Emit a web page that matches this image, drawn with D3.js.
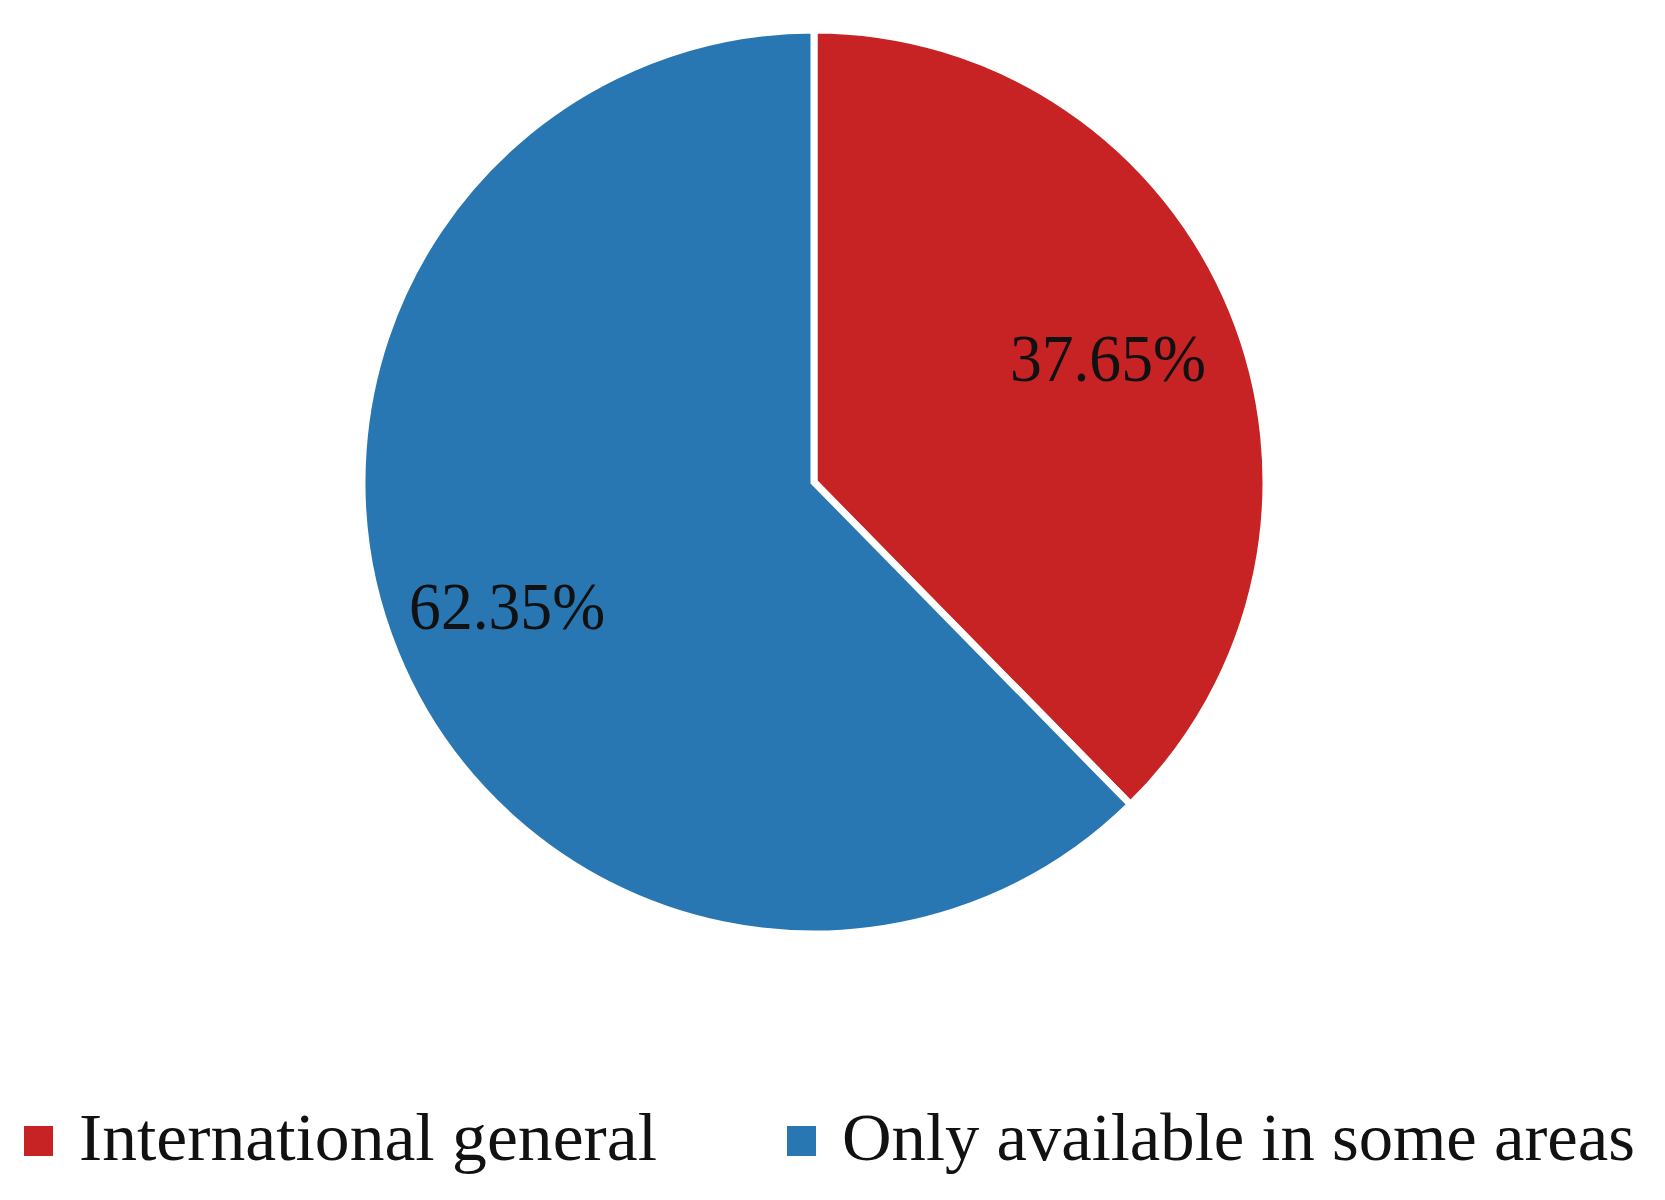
<!DOCTYPE html>
<html>
<head>
<meta charset="utf-8">
<script src="https://cdn.jsdelivr.net/npm/d3@7"></script>
<style>
  body { margin: 0; background: #fff; }
  svg { display: block; }
  text { font-family: "Liberation Serif", "DejaVu Serif", serif; fill: #111; }
</style>
</head>
<body>
<div id="chart"></div>
<script>
// data
const categories = ["International general", "Only available in some areas"];
const shares = [37.65, 62.35];
const sliceColors = ["#C72324", "#2876B2"];

const width = 1665, height = 1200;
const cx = 814, cy = 482, radius = 452;

const svg = d3.select("#chart").append("svg")
    .attr("width", width)
    .attr("height", height);

const color = d3.scaleOrdinal().domain(categories).range(sliceColors);

const pie = d3.pie().sort(null).value(d => d.value);
const slices = pie(categories.map((c, i) => ({name: c, value: shares[i]})));

const arc = d3.arc().innerRadius(0).outerRadius(radius);
const labelArc = d3.arc().innerRadius(radius * 0.7).outerRadius(radius * 0.7);

const g = svg.append("g").attr("transform", `translate(${cx},${cy})`);

g.selectAll("path")
    .data(slices)
    .join("path")
    .attr("d", arc)
    .attr("fill", d => color(d.data.name))
    .attr("stroke", "#fff")
    .attr("stroke-width", 7)
    .attr("stroke-linejoin", "miter");

// percentage labels
g.selectAll("text.pct")
    .data(slices)
    .join("text")
    .attr("class", "pct")
    .attr("transform", d => {
        const [x, y] = labelArc.centroid(d);
        // the big slice's label sits a little further out in the original
        return d.index === 1 ? `translate(${x - 14},${y + 4})` : `translate(${x + 1},${y - 5})`;
    })
    .attr("text-anchor", "middle")
    .attr("dy", "0.35em")
    .attr("font-size", 67)
    .attr("textLength", 196)
    .attr("lengthAdjust", "spacingAndGlyphs")
    .text(d => d.data.value.toFixed(2) + "%");

// legend
const legendX = [24, 787];
const legendW = [578, 793];
const legend = svg.append("g")
    .selectAll("g")
    .data(categories)
    .join("g")
    .attr("transform", (d, i) => `translate(${legendX[i]},1126)`);

legend.append("rect")
    .attr("width", 29)
    .attr("height", 30)
    .attr("fill", d => color(d));

legend.append("text")
    .attr("x", 55)
    .attr("y", 34)
    .attr("font-size", 68)
    .attr("textLength", (d, i) => legendW[i])
    .attr("lengthAdjust", "spacingAndGlyphs")
    .text(d => d);
</script>
</body>
</html>
